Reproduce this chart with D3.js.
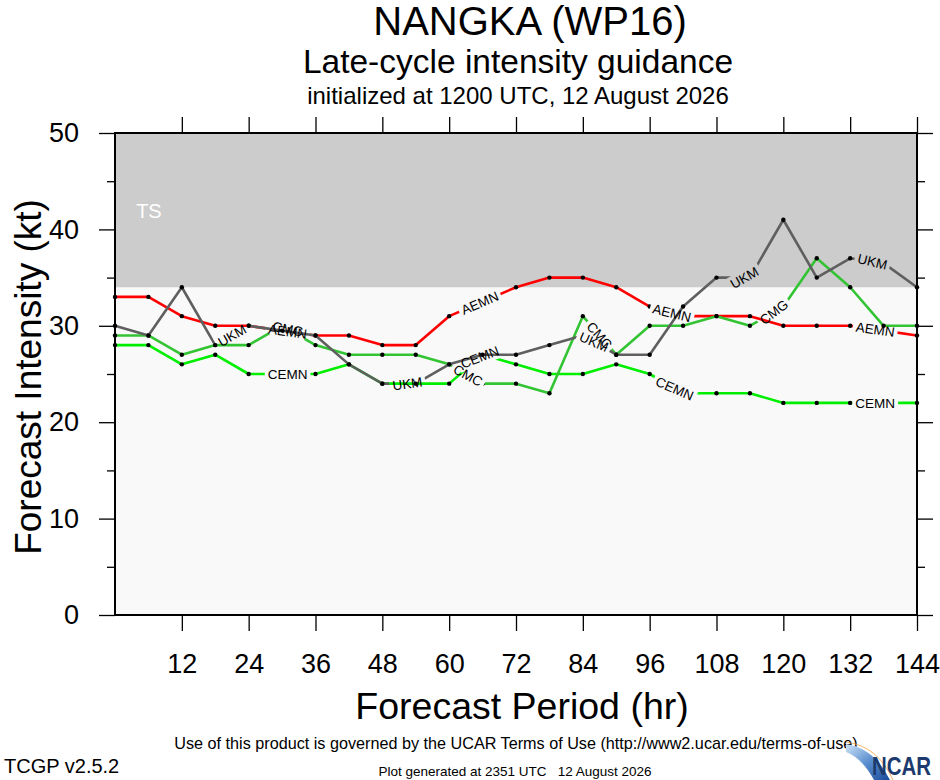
<!DOCTYPE html>
<html><head><meta charset="utf-8">
<script src="https://cdn.jsdelivr.net/npm/d3@7"></script>
<style>
body{margin:0;background:#fff}
svg{display:block}
text{font-family:"Liberation Sans",Arial,Helvetica,sans-serif}
</style>
</head><body>
<svg id="c" width="940" height="780"></svg>
<script>
// ---------------- data ----------------
const hours = [0,6,12,18,24,30,36,42,48,54,60,66,72,78,84,90,96,102,108,114,120,126,132,138,144];
const AEMN = [33,33,31,30,30,29.5,29,29,28,28,31,32.5,34,35,35,34,32,31,31,31,30,30,30,29.5,29];
const CEMN = [28,28,26,27,25,25,25,26,24,24,24,27,26,25,25,26,25,23,23,23,22,22,22,22,22];
const CMC  = [29,29,27,28,28,30,28,27,27,27,26,24,24,23,31,27,30,30,31,30,32,37,34,30,30];
const UKM  = [30,29,34,28,30,29.5,29,26,24,24,26,27,27,28,29,27,27,32,35,35,41,35,37,36.5,34];
// line labels: hour positions along each line, and text
const labelsAEMN = [[31,"AEMN"],[65.5,"AEMN"],[100,"AEMN"],[136.5,"AEMN"]];
const labelsCEMN = [[31,"CEMN"],[65.5,"CEMN"],[100.5,"CEMN"],[136.5,"CEMN"]];
const labelsCMC  = [[31,"CMC"],[63.4,"CMC"],[87,"CMC"],[118.3,"CMG"]];
const labelsUKM  = [[21,"UKM"],[52.5,"UKM"],[86,"UKM"],[113,"UKM"],[136,"UKM"]];
const xTicks = [12,24,36,48,60,72,84,96,108,120,132,144];
const yTicks = [0,10,20,30,40,50];
const yMinor = [5,15,25,35,45];
const tsBand = [34,50];
const titleMain = "NANGKA (WP16)";
const titleSub = "Late-cycle intensity guidance";
const titleInit = "initialized at 1200 UTC, 12 August 2026";

const series = [
  {name:"AEMN", values:AEMN, labels:labelsAEMN, color:"#ff0000"},
  {name:"CEMN", values:CEMN, labels:labelsCEMN, color:"#00ee00"},
  {name:"CMC",  values:CMC,  labels:labelsCMC,  color:"#33c433"},
  {name:"UKM",  values:UKM,  labels:labelsUKM,  color:"#5f5f5f"}
];

// ---------------- chart ----------------
const svg = d3.select("#c");
const L=115, R=917, T=133, B=615;
const x = d3.scaleLinear().domain([0,144]).range([L,R]);
const y = d3.scaleLinear().domain([0,50]).range([B,T]);

const defs = svg.append("defs");

// backgrounds
svg.append("rect").attr("x",L).attr("y",T).attr("width",R-L).attr("height",B-T).attr("fill","#f9f9f9");
svg.append("rect").attr("x",L).attr("y",y(tsBand[1])).attr("width",R-L)
   .attr("height",y(tsBand[0])-y(tsBand[1])).attr("fill","#cccccc");
svg.append("text").attr("x",x(6)+0.5).attr("y",218).attr("fill","#fff")
   .attr("font-size",20).attr("text-anchor","middle").text("TS");

// axes
function styleAxis(g){
  g.select(".domain").remove();
  g.selectAll(".tick line").attr("stroke","#000").attr("stroke-width",1.3);
  g.selectAll(".tick text").attr("fill","#000").style("font-family","Liberation Sans, Arial, sans-serif");
}
svg.append("g").attr("transform",`translate(0,${B})`)
  .call(d3.axisBottom(x).tickValues(xTicks).tickSize(16).tickSizeOuter(0).tickPadding(23).tickFormat(d3.format("d")))
  .call(styleAxis).selectAll(".tick text").attr("font-size",27);
svg.append("g").attr("transform",`translate(0,${T})`)
  .call(d3.axisTop(x).tickValues(xTicks).tickSize(16).tickSizeOuter(0).tickFormat(""))
  .call(styleAxis);
svg.append("g").attr("transform",`translate(${L},0)`)
  .call(d3.axisLeft(y).tickValues(yTicks).tickSize(16).tickSizeOuter(0).tickPadding(20).tickFormat(d3.format("d")))
  .call(styleAxis).selectAll(".tick text").attr("font-size",27);
svg.append("g").attr("transform",`translate(${L},0)`)
  .call(d3.axisLeft(y).tickValues(yMinor).tickSize(8).tickSizeOuter(0).tickFormat(""))
  .call(styleAxis);
svg.append("g").attr("transform",`translate(${R},0)`)
  .call(d3.axisRight(y).tickValues(yTicks).tickSize(16).tickSizeOuter(0).tickFormat(""))
  .call(styleAxis);
svg.append("g").attr("transform",`translate(${R},0)`)
  .call(d3.axisRight(y).tickValues(yMinor).tickSize(8).tickSizeOuter(0).tickFormat(""))
  .call(styleAxis);

// series
const linesG = svg.append("g");
const labelsG = svg.append("g");
const line = d3.line().x((d,i)=>x(hours[i])).y(d=>y(d));

series.forEach(s=>{
  const interp = d3.scaleLinear().domain(hours).range(s.values);
  const maskId = "mask-"+s.name;
  const mask = defs.append("mask").attr("id",maskId).attr("maskUnits","userSpaceOnUse")
    .attr("x",0).attr("y",0).attr("width",940).attr("height",780);
  mask.append("rect").attr("x",0).attr("y",0).attr("width",940).attr("height",780).attr("fill","#fff");

  s.labels.forEach(([h,txt])=>{
    const cx = x(h), cy = y(interp(h));
    const x1 = x(h-3), y1 = y(interp(h-3)), x2 = x(h+3), y2 = y(interp(h+3));
    const ang = Math.atan2(y2-y1, x2-x1)*180/Math.PI;
    const t = labelsG.append("text").attr("x",cx).attr("y",cy).attr("dy","0.36em")
      .attr("text-anchor","middle").attr("font-size",13.5).attr("fill","#000")
      .attr("transform",`rotate(${ang},${cx},${cy})`).text(txt);
    const w = t.node().getComputedTextLength()+6;
    mask.append("rect").attr("x",cx-w/2).attr("y",cy-8).attr("width",w).attr("height",16)
      .attr("fill","#000").attr("transform",`rotate(${ang},${cx},${cy})`);
  });

  const g = linesG.append("g").attr("mask",`url(#${maskId})`);
  g.append("path").datum(s.values).attr("d",line).attr("fill","none")
    .attr("stroke",s.color).attr("stroke-width",2.6).attr("stroke-linejoin","round");
  g.selectAll("circle").data(s.values).join("circle")
    .attr("cx",(d,i)=>x(hours[i])).attr("cy",d=>y(d)).attr("r",2.2).attr("fill","#000");
});

// frame
svg.append("rect").attr("x",L).attr("y",T).attr("width",R-L).attr("height",B-T)
  .attr("fill","none").attr("stroke","#000").attr("stroke-width",2);

// titles
svg.append("text").attr("x",530).attr("y",35).attr("text-anchor","middle").attr("font-size",40).text(titleMain);
svg.append("text").attr("x",518).attr("y",73).attr("text-anchor","middle").attr("font-size",33.5).text(titleSub);
svg.append("text").attr("x",518).attr("y",104).attr("text-anchor","middle").attr("font-size",24).text(titleInit);

// axis titles
svg.append("text").attr("x",522).attr("y",719).attr("text-anchor","middle").attr("font-size",37.5).text("Forecast Period (hr)");
svg.append("text").attr("transform","translate(41,377) rotate(-90)").attr("text-anchor","middle")
  .attr("font-size",37).text("Forecast Intensity (kt)");

// footer
svg.append("text").attr("x",516).attr("y",749).attr("text-anchor","middle").attr("font-size",16.2)
  .text("Use of this product is governed by the UCAR Terms of Use (http://www2.ucar.edu/terms-of-use)");
svg.append("text").attr("x",4).attr("y",773).attr("font-size",20).text("TCGP v2.5.2");
svg.append("text").attr("x",515).attr("y",776).attr("text-anchor","middle").attr("font-size",13.5)
  .style("white-space","pre").text("Plot generated at 2351 UTC   12 August 2026");

// NCAR logo
const grad = defs.append("linearGradient").attr("id","sw").attr("x1","0").attr("y1","0").attr("x2","1").attr("y2","1");
grad.append("stop").attr("offset","0").attr("stop-color","#cfe3f5");
grad.append("stop").attr("offset","0.5").attr("stop-color","#5a8fd0");
grad.append("stop").attr("offset","1").attr("stop-color","#1a4a9a");
svg.append("path").attr("d","M846,744 Q874,748 890,780 L874,780 Q862,758 846,752 Z").attr("fill","url(#sw)");
svg.append("path").attr("d","M846,742 Q878,746 893,780").attr("fill","none").attr("stroke","#f0a040").attr("stroke-width",0.8);
svg.append("text").attr("transform","translate(872,775) scale(0.95,1.2)").attr("font-size",21.5).attr("font-weight","bold")
  .attr("fill","#1c3a6e").text("NCAR");
</script>
</body></html>
